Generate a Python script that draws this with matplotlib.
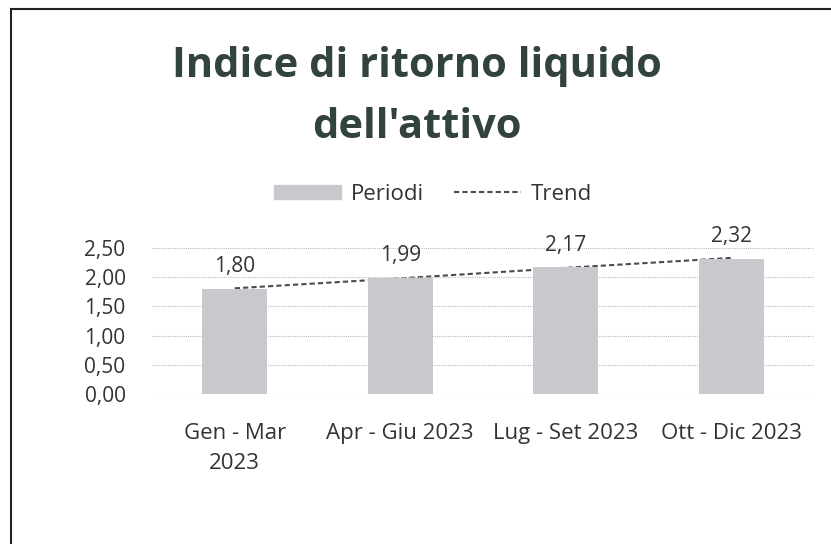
import matplotlib.pyplot as plt
from matplotlib.patches import Rectangle, Patch
from matplotlib.lines import Line2D

plt.rcParams['font.family'] = ['Open Sans', 'DejaVu Sans']

# data
periods = ['Gen - Mar\n2023', 'Apr - Giu 2023', 'Lug - Set 2023', 'Ott - Dic 2023']
values = [1.80, 1.99, 2.17, 2.32]
trend = [1.81, 1.98, 2.16, 2.33]
yticks = [0.0, 0.5, 1.0, 1.5, 2.0, 2.5]

BAR_COLOR = '#c8c8cd'
TREND_COLOR = '#4a4a4a'
DASH = (0, (2.5, 1.5))

W, H = 831, 544
fig = plt.figure(figsize=(W / 100, H / 100), dpi=100)
ax = fig.add_axes([152 / W, 1 - 394 / H, 662 / W, 146 / H])

x = range(len(periods))
ax.bar(x, values, width=0.39, color=BAR_COLOR, zorder=2)
ax.plot(x, trend, linestyle=DASH, color=TREND_COLOR, linewidth=1.5, zorder=1.5)

# data labels
for i, v in enumerate(values):
    ax.annotate('{:.2f}'.format(v).replace('.', ','), (i, v), xytext=(0, 12),
                textcoords='offset points', ha='center', va='baseline',
                fontsize=15, color='#333333')

ax.set_xlim(-0.5, 3.5)
ax.set_ylim(0, 2.5)
ax.set_yticks(yticks)
ax.set_yticklabels(['{:.2f}'.format(t).replace('.', ',') for t in yticks])
ax.set_xticks(list(x))
ax.set_xticklabels(periods, fontsize=16, linespacing=1.55)
ax.tick_params(axis='both', length=0, colors='#333333')
ax.tick_params(axis='y', pad=19, labelsize=15)
ax.tick_params(axis='x', pad=21)
ax.grid(axis='y', linestyle=(0, (1, 1)), color='#bbbbbb', linewidth=0.8, zorder=0)
for s in ax.spines.values():
    s.set_visible(False)

# legend
handles = [Patch(color=BAR_COLOR),
           Line2D([0], [0], linestyle=DASH, color=TREND_COLOR, linewidth=1.5)]
fig.legend(handles, ['Periodi', 'Trend'], loc='center', bbox_to_anchor=(433 / W, 1 - 194 / H),
           ncol=2, frameon=False, fontsize=16, handlelength=3.0, handleheight=0.6,
           columnspacing=1.35, handletextpad=0.45, labelcolor='#333333')

# title
fig.text(417 / W, 1 - 97 / H, "Indice di ritorno liquido\ndell'attivo", ha='center', va='center',
         fontsize=30, fontweight='bold', color='#32423c', linespacing=1.65)

# outer frame
fig.patches.append(Rectangle((11 / W, -0.1), 1.2, 1 - 9 / H + 0.1, transform=fig.transFigure,
                             fill=False, edgecolor='#222222', linewidth=1.5))

fig.savefig('out.png', dpi=100)
